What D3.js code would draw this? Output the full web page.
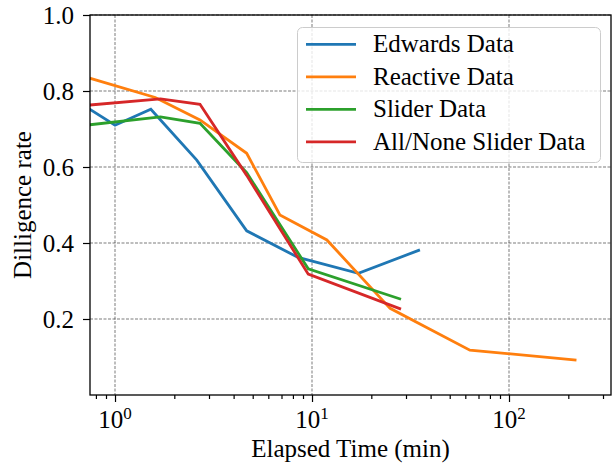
<!DOCTYPE html>
<html>
<head>
<meta charset="utf-8">
<script src="https://cdn.jsdelivr.net/npm/d3@7"></script>
<style>
  body { margin: 0; background: #fff; }
  svg text { font-family: "Liberation Serif", "DejaVu Serif", serif; fill: #000; }
</style>
</head>
<body>
<svg id="chart" width="612" height="464"></svg>
<script>
// values
var edwardsX  = [0.74, 1.0, 1.52, 2.6, 4.66, 8.5, 17.2, 35.3];
var edwardsY  = [0.753, 0.71, 0.752, 0.618, 0.432, 0.362, 0.320, 0.382];
var reactiveX = [0.74, 1.6, 2.7, 4.66, 6.87, 11.9, 24.9, 63.3, 220];
var reactiveY = [0.834, 0.783, 0.724, 0.636, 0.474, 0.408, 0.228, 0.118, 0.092];
var sliderX   = [0.74, 1.7, 2.7, 4.66, 9.57, 28.3];
var sliderY   = [0.711, 0.732, 0.715, 0.585, 0.332, 0.252];
var allNoneX  = [0.74, 1.7, 2.7, 4.66, 9.57, 28.3];
var allNoneY  = [0.763, 0.779, 0.765, 0.578, 0.318, 0.226];

var seriesNames = ["Edwards Data", "Reactive Data", "Slider Data", "All/None Slider Data"];
var seriesColors = ["#1f77b4", "#ff7f0e", "#2ca02c", "#d62728"];
var yTicks = [0.2, 0.4, 0.6, 0.8, 1.0];
var xTicks = [1, 10, 100];
var xTickExp = ["0", "1", "2"];
var xLabel = "Elapsed Time (min)";
var yLabel = "Dilligence rate";

(function(){

  var series = [
    {name: seriesNames[0], xs: edwardsX, ys: edwardsY},
    {name: seriesNames[1], xs: reactiveX, ys: reactiveY},
    {name: seriesNames[2], xs: sliderX, ys: sliderY},
    {name: seriesNames[3], xs: allNoneX, ys: allNoneY}
  ];

  var pL = 90, pR = 611, pT = 15, pB = 395;
  var fs = 25;

  var x = d3.scaleLog().domain([0.7465, 329.4]).range([pL, pR]);
  var y = d3.scaleLinear().domain([0, 1]).range([pB, pT]);

  var svg = d3.select("#chart");

  svg.append("defs").append("clipPath").attr("id", "clip")
    .append("rect").attr("x", pL).attr("y", pT)
    .attr("width", pR - pL).attr("height", pB - pT);

  // grid
  var grid = svg.append("g")
    .attr("stroke", "#000").attr("stroke-opacity", 0.65)
    .attr("stroke-width", 0.8).attr("stroke-dasharray", "3,1.5");
  grid.selectAll("line.gx").data(xTicks).enter().append("line")
    .attr("x1", function(d){ return x(d); }).attr("x2", function(d){ return x(d); })
    .attr("y1", pT).attr("y2", pB);
  grid.selectAll("line.gy").data(yTicks).enter().append("line")
    .attr("x1", pL).attr("x2", pR)
    .attr("y1", function(d){ return y(d); }).attr("y2", function(d){ return y(d); });

  // data lines
  var line = d3.line()
    .x(function(d){ return x(d[0]); })
    .y(function(d){ return y(d[1]); });

  svg.append("g").attr("clip-path", "url(#clip)")
    .selectAll("path").data(series).enter().append("path")
    .attr("d", function(s){ return line(d3.zip(s.xs, s.ys)); })
    .attr("fill", "none")
    .attr("stroke", function(s, i){ return seriesColors[i]; })
    .attr("stroke-width", 2.8)
    .attr("stroke-linejoin", "miter");

  // x axis with log minor ticks
  var minor = [];
  [0.1, 1, 10, 100].forEach(function(dec){
    for (var k = 2; k <= 9; k++) {
      var v = dec * k;
      if (v >= x.domain()[0] && v <= x.domain()[1]) minor.push(v);
    }
  });

  var xAxis = svg.append("g").attr("transform", "translate(0," + pB + ")");
  xAxis.call(d3.axisBottom(x).tickValues(minor).tickSize(4).tickFormat(""));
  xAxis.append("g").call(d3.axisBottom(x).tickValues(xTicks).tickSize(7).tickFormat(""));
  xAxis.selectAll(".domain").remove();
  xAxis.selectAll("line").attr("stroke", "#000").attr("stroke-width", 1.2);

  var xl = svg.append("g").selectAll("text").data(xTicks).enter().append("text")
    .attr("x", function(d){ return x(d); })
    .attr("y", 428)
    .attr("text-anchor", "middle")
    .style("font-size", fs + "px");
  xl.append("tspan").text("10");
  xl.append("tspan").attr("dy", -9).style("font-size", "17px")
    .text(function(d, i){ return xTickExp[i]; });

  // y axis
  var yAxis = svg.append("g").attr("transform", "translate(" + pL + ",0)");
  yAxis.call(d3.axisLeft(y).tickValues(yTicks).tickSize(7).tickFormat(d3.format(".1f")));
  yAxis.select(".domain").remove();
  yAxis.selectAll("line").attr("stroke", "#000").attr("stroke-width", 1.2);
  yAxis.selectAll("text")
    .attr("x", -16).attr("dy", null).attr("y", 8)
    .style("font-size", fs + "px")
    .style("font-family", "'Liberation Serif', serif");

  // frame
  svg.append("rect")
    .attr("x", pL).attr("y", pT)
    .attr("width", pR - pL).attr("height", pB - pT)
    .attr("fill", "none").attr("stroke", "#000").attr("stroke-width", 1.3);

  // axis titles
  svg.append("text")
    .attr("x", (pL + pR) / 2).attr("y", 457)
    .attr("text-anchor", "middle").style("font-size", fs + "px")
    .text(xLabel);

  svg.append("text")
    .attr("transform", "translate(31," + ((pT + pB) / 2) + ") rotate(-90)")
    .attr("text-anchor", "middle").style("font-size", fs + "px")
    .text(yLabel);

  // legend
  var lg = svg.append("g");
  lg.append("rect")
    .attr("x", 297.5).attr("y", 27.5).attr("width", 303).attr("height", 135)
    .attr("rx", 5).attr("ry", 5)
    .attr("fill", "#fff").attr("fill-opacity", 0.8)
    .attr("stroke", "#ccc").attr("stroke-width", 1);

  var rows = lg.selectAll("g.row").data(series).enter().append("g")
    .attr("transform", function(d, i){ return "translate(0," + (44.3 + i * 32.5) + ")"; });
  rows.append("line")
    .attr("x1", 306).attr("x2", 356).attr("y1", 0).attr("y2", 0)
    .attr("stroke", function(d, i){ return seriesColors[i]; })
    .attr("stroke-width", 2.8);
  rows.append("text")
    .attr("x", 373).attr("y", 8)
    .style("font-size", fs + "px")
    .text(function(d){ return d.name; });

})();
</script>
</body>
</html>
